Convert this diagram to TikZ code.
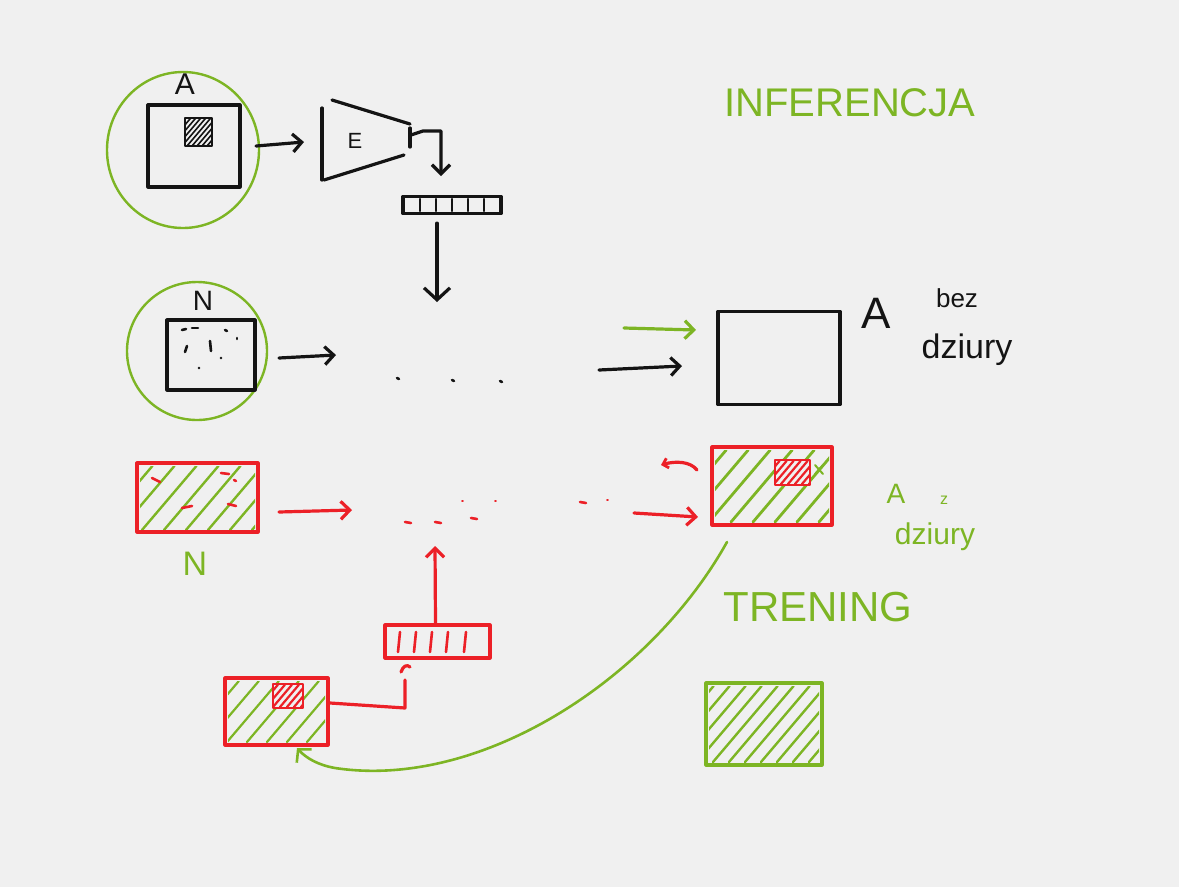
\documentclass[tikz,border=0pt]{standalone}
\usepackage{fontspec}
\setmainfont{Liberation Sans}
\usetikzlibrary{arrows.meta}
\definecolor{bg}{HTML}{F0F0F0}
\definecolor{grn}{HTML}{7DB524}
\definecolor{rd}{HTML}{EC2027}
\definecolor{ink}{HTML}{141414}
\newcommand\hatchrect[7]{%
  \begin{scope}
    \clip (#1,#2) rectangle (#3,#4);
    \foreach \k in {0,...,40}
      \draw[#5, line width=#7] ({#1-(#4-#2)+\k*#6},#4) -- ++({(#4-#2)*0.85},{-(#4-#2)});
  \end{scope}}
\begin{document}
\begin{tikzpicture}[x=1pt,y=-1pt, line cap=round, line join=round,
  pen/.style={line width=3.2pt},
  box/.style={draw, pen, rectangle, inner sep=0pt},
  lab/.style={inner sep=0pt, font=\fontsize{#1}{#1}\selectfont},
  arr/.style={pen, -{Straight Barb[length=9pt,width=18pt,line width=3.2pt]}},
  bigarr/.style={pen, -{Straight Barb[length=12pt,width=26pt,line width=3.2pt]}},
  dot/.style={line width=2.6pt}
]
\fill[bg] (0,0) rectangle (1179,887);
\useasboundingbox (0,0) rectangle (1179,887);

% ---------------- INFERENCE ----------------
\node[lab=40, text=grn] (inf) at (850,103) {INFERENCJA};

% A image with selection
\draw[grn, line width=2.4pt] (183,150) ellipse [x radius=76pt, y radius=78pt];
\node[box, draw=ink, minimum width=92pt, minimum height=82pt] (A) at (194,146) {};
\hatchrect{185}{118}{212}{146}{ink}{5}{1.6pt}
\draw[ink, line width=2.4pt] (185,118) rectangle (212,146);
\node[lab=30, text=ink] (Alab) at (185,84) {A};

% arrow to encoder
\coordinate (a1) at (256,146);
\coordinate (a2) at (304,142);
\draw[arr, ink] (a1) -- (a2);

% encoder
\node[lab=22, text=ink] (E) at (355,141) {E};
\draw[pen, ink] (322,108) -- (322,180);
\draw[pen, ink] (332,100) -- (410,124);
\draw[pen, ink] (324,180) -- (404,155);
\draw[pen, ink] (410,128) -- (410,147);
\coordinate (h1) at (411,135);
\coordinate (h2) at (441,176);
\draw[arr, ink] (h1) -- (423,131) -- (441,131) -- (h2);

% feature vector
\node[box, draw=ink, minimum width=98pt, minimum height=17pt] (bar) at (452,205) {};
\foreach \x in {420,436,452,468,484}
  \draw[ink, line width=2.2pt] (\x,199) -- (\x,211);
\coordinate (d2) at (437,302);
\draw[bigarr, ink] ([xshift=-15pt,yshift=-8pt]bar.south) -- (d2);

% N image
\draw[grn, line width=2.4pt] (197,351) ellipse [x radius=70pt, y radius=69pt];
\node[box, draw=ink, minimum width=88pt, minimum height=70pt] (Nbox) at (211,355) {};
\node[lab=28, text=ink] (Nlab) at (203,301) {N};
\foreach \p/\q in {{182,330}/{186,329},{192,328}/{198,328},{225,330}/{227,331},{237,338}/{237,339},{187,346}/{185,352},{210,341}/{211,351},{221,358}/{221,358},{199,368}/{199,368}}
  \draw[ink, dot] (\p) -- (\q);

\coordinate (b1) at (279,358);
\coordinate (b2) at (336,355);
\draw[arr, ink] (b1) -- (b2);
\foreach \x/\y in {397/378, 452/380, 500/381}
  \draw[ink, dot] (\x,\y) -- (\x+2,\y+1);
\coordinate (c1) at (599,370);
\coordinate (c2) at (682,366);
\draw[arr, ink] (c1) -- (c2);
\coordinate (g1) at (624,328);
\coordinate (g2) at (696,330);
\draw[arr, grn] (g1) -- (g2);

% result without hole
\node[box, draw=ink, minimum width=122pt, minimum height=93pt] (res) at (779,358) {};
\node[lab=44, text=ink] (resA) at (876,313) {A};
\node[lab=26, text=ink] (bez) at (957,298) {bez};
\node[lab=34, text=ink] (dz1) at (967,350) {dziury};

% ---------------- TRAINING ----------------
% red masked N
\hatchrect{140}{466}{255}{530}{grn}{22}{2.4pt}
\node[box, draw=rd, minimum width=121pt, minimum height=69pt] (Nr) at (197.5,497.5) {};
\foreach \p/\q in {{152,478}/{160,482},{221,473}/{229,474},{234,480}/{236,481},{182,508}/{192,506},{228,504}/{236,506}}
  \draw[rd, dot] (\p) -- (\q);
\node[lab=34, text=grn] (Ng) at (195,564) {N};

\coordinate (r1) at (279,512);
\coordinate (r2) at (352,510);
\draw[arr, rd] (r1) -- (r2);
\foreach \x/\y in {405/522, 435/522, 471/518, 580/502}
  \draw[rd, dot] (\x,\y) -- (\x+6,\y+1);
\foreach \x/\y in {462/501, 495/501, 607/500}
  \draw[rd, line width=1.8pt] (\x,\y) -- (\x+1,\y);
\coordinate (r3) at (634,513);
\coordinate (r4) at (698,517);
\draw[arr, rd] (r3) -- (r4);
\coordinate (r5) at (697,470);
\coordinate (r6) at (661,465);
\draw[rd, pen, -{Straight Barb[length=5pt,width=10pt,line width=2.8pt]}] (r5) .. controls (690,461) and (675,461) .. (r6);

% red box with hole, result
\hatchrect{715}{450}{829}{522}{grn}{22}{2.8pt}
\node[box, draw=rd, minimum width=120pt, minimum height=78pt] (resr) at (772,486) {};
\fill[bg] (776,461) rectangle (809,484);
\hatchrect{776}{461}{809}{484}{rd}{7}{2.2pt}
\draw[rd, line width=2.6pt] (775,460) rectangle (810,485);
\draw[grn, line width=2pt] (815,465) -- (823,474) (823,465) -- (815,474);
\node[lab=28, text=grn] (zA) at (896,494) {A};
\node[lab=16, text=grn] (zz) at (944,500) {z};
\node[lab=30, text=grn] (dz2) at (935,537) {dziury};

% small input with mask
\hatchrect{228}{681}{325}{742}{grn}{20}{2.2pt}
\node[box, draw=rd, minimum width=103pt, minimum height=67pt] (small) at (276.5,711.5) {};
\fill[bg] (274,685) rectangle (302,707);
\hatchrect{274}{685}{302}{707}{rd}{7}{2.2pt}
\draw[rd, line width=2.6pt] (273,684) rectangle (303,708);

% red line to red vector
\coordinate (s1) at (330,703);
\draw[rd, pen] (s1) -- (405,708) -- (405,680);
\draw[rd, pen] (401,672) .. controls (403,666) and (407,664) .. (410,667);
\node[box, draw=rd, minimum width=105pt, minimum height=33pt] (rbar) at (437.5,641.5) {};
\foreach \x in {400,416,432,448,466}
  \draw[rd, line width=2.6pt] (\x,632) -- (\x-2,652);
\coordinate (u2) at (435,546);
\draw[arr, rd] ([xshift=-2pt]rbar.north) -- (u2);

% green feedback curve
\coordinate (f1) at (727,542);
\coordinate (f2) at (297,748);
\draw[grn, line width=2.6pt, -{Straight Barb[length=9pt,width=20pt,line width=2.6pt]}] (f1) .. controls (650,680) and (480,790) .. (335,768) .. controls (318,765) and (306,758) .. (f2);

% TRENING
\node[lab=42, text=grn] (tr) at (818,607) {TRENING};
\hatchrect{709}{686}{819}{762}{grn}{16}{2.4pt}
\node[box, draw=grn, minimum width=116pt, minimum height=82pt] (gbox) at (764,724) {};
\end{tikzpicture}
\end{document}
